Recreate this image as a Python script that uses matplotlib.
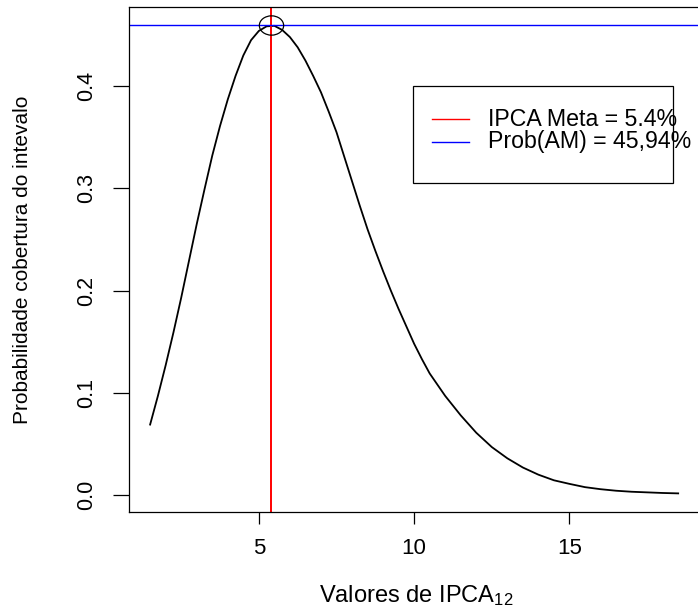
import matplotlib
matplotlib.use("Agg")
import matplotlib.pyplot as plt
from matplotlib.path import Path
from matplotlib.patches import Rectangle
from matplotlib.lines import Line2D

plt.rcParams['font.family'] = ['Liberation Sans', 'DejaVu Sans']
plt.rcParams['mathtext.fontset'] = 'custom'
plt.rcParams['mathtext.rm'] = 'Liberation Sans'
plt.rcParams['mathtext.it'] = 'Liberation Sans:italic'

# ---- data ----
ipca = [1.5, 1.75, 2.0, 2.25, 2.5, 2.75, 3.0, 3.25, 3.5, 3.75, 4.0, 4.25, 4.5,
        4.75, 5.0, 5.25, 5.5, 5.75, 6.0, 6.25, 6.5, 6.75, 7.0, 7.25, 7.5, 7.75,
        8.0, 8.25, 8.5, 8.75, 9.0, 9.25, 9.5, 9.75, 10.0, 10.25, 10.5, 10.75,
        11.0, 11.5, 12.0, 12.5, 13.0, 13.5, 14.0, 14.5, 15.0, 15.5, 16.0, 16.5,
        17.0, 17.5, 18.0, 18.5]
prob = [0.069, 0.097, 0.127, 0.159, 0.193, 0.229, 0.265, 0.299, 0.332, 0.361,
        0.387, 0.410, 0.430, 0.445, 0.454, 0.4585, 0.459, 0.455, 0.448, 0.438,
        0.425, 0.410, 0.394, 0.375, 0.355, 0.331, 0.307, 0.283, 0.260, 0.239,
        0.219, 0.200, 0.182, 0.165, 0.148, 0.133, 0.119, 0.108, 0.097, 0.078,
        0.061, 0.047, 0.036, 0.027, 0.020, 0.0145, 0.011, 0.0078, 0.0058,
        0.0043, 0.0033, 0.0027, 0.0021, 0.0017]
ipca_meta = 5.4
prob_am = 0.4594
x_ticks = [5, 10, 15]
y_ticks = [0.0, 0.1, 0.2, 0.3, 0.4]
y_tick_labels = ["0.0", "0.1", "0.2", "0.3", "0.4"]
legend_labels = ["IPCA Meta = 5.4%", "Prob(AM) = 45,94%"]
legend_colors = ["#FF0000", "#0000FF"]
xlabel = r"Valores de IPCA$_{\mathrm{12}}$"
ylabel = "Probabilidade cobertura do intevalo"

W, H = 698, 610
fig = plt.figure(figsize=(W / 100, H / 100), dpi=100)
L, R, T, B = 129, 699.3, 6.6, 512.3
ax = fig.add_axes([L / W, 1 - B / H, (R - L) / W, (B - T) / H])

ax.plot(ipca, prob, color='black', lw=1.3, solid_joinstyle='round')
ax.axvline(ipca_meta, color=legend_colors[0], lw=1.4)
ax.axhline(prob_am, color=legend_colors[1], lw=1.0)

circ = Path.unit_circle()
ell = Path(circ.vertices * [1.26, 1.0], circ.codes)
ax.plot([ipca_meta], [prob_am], marker=ell, markersize=17.5, mfc='none',
        mec='black', mew=0.9, linestyle='none')

ax.set_xlim(0.82, 19.18)
ax.set_ylim(-0.0168, 0.4778)
ax.set_xticks(x_ticks)
ax.set_xticklabels([str(v) for v in x_ticks])
ax.set_yticks(y_ticks)
ax.set_yticklabels(y_tick_labels)

for s in ax.spines.values():
    s.set_color('black')
    s.set_linewidth(0.9)

ax.tick_params(axis='x', direction='out', length=8.4, width=0.9,
               labelsize=16, pad=10, colors='black')
ax.tick_params(axis='y', direction='out', length=11.3, width=0.9,
               labelsize=15.5, pad=12, colors='black')
for t in ax.get_yticklabels():
    t.set_rotation(90)
    t.set_va('center')

# legend drawn in axes fraction
def ax_x(px):
    return (px - L) / (R - L)

def ax_y(py):
    return (B - py) / (B - T)

bx0, bx1, by0, by1 = ax_x(413), ax_x(673), ax_y(183), ax_y(86)
ax.add_patch(Rectangle((bx0, by0), bx1 - bx0, by1 - by0, transform=ax.transAxes,
                       fill=True, facecolor='white', edgecolor='black',
                       lw=0.9, zorder=5, clip_on=False))
for i, (lab, col) in enumerate(zip(legend_labels, legend_colors)):
    yy = ax_y(119 + i * 22.7)
    ax.add_line(Line2D([ax_x(431.7), ax_x(469)], [yy, yy], transform=ax.transAxes,
                       color=col, lw=1.0, zorder=6, clip_on=False))
    ax.text(ax_x(488.3), yy, lab, transform=ax.transAxes, fontsize=16.7,
            ha='left', va='center', zorder=6, clip_on=False)

fig.text(416 / W, 1 - 601.7 / H, xlabel, ha='center', va='baseline', fontsize=17)
fig.text(23 / W, 1 - 259.5 / H, ylabel, ha='center', va='center', rotation=90,
         fontsize=15)

fig.savefig("out.png", dpi=100)
